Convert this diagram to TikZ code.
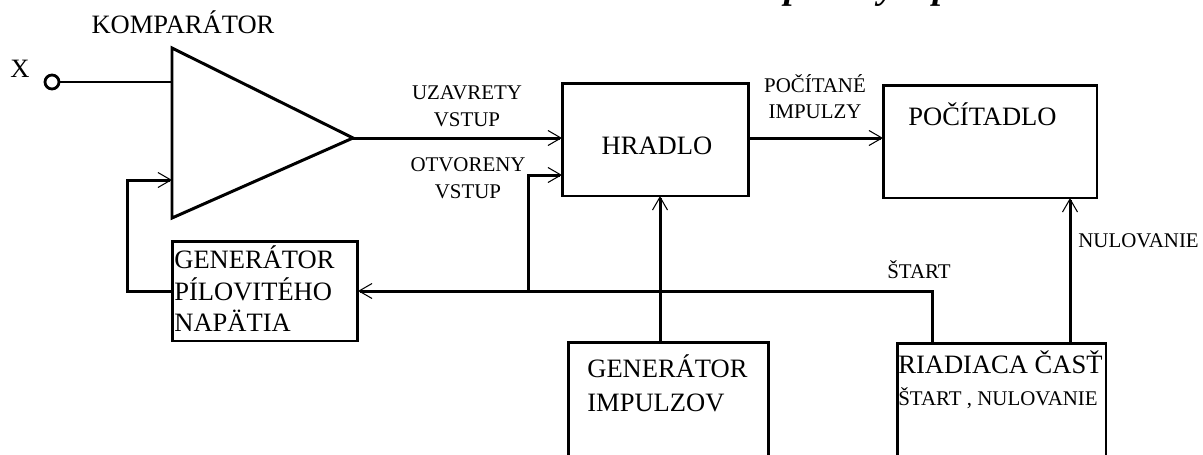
\documentclass[tikz,border=0pt]{standalone}
\usepackage{fontspec}
\setmainfont{Liberation Serif}
\usetikzlibrary{arrows.meta}
\newcommand\fbig{\fontsize{15.1}{17}\selectfont}
\newcommand\fsmall{\fontsize{11.9}{14}\selectfont}
\begin{document}
\begin{tikzpicture}[x=0.02cm,y=-0.02cm,
  wire/.style={line width=1.7pt},
  arr/.style={wire,-{Straight Barb[length=0.26cm,width=0.3cm,line width=0.6pt]}},
  box/.style={draw,line width=1.7pt,inner sep=0pt,outer sep=0pt},
  big/.style={inner sep=0pt,font=\fbig},
  small/.style={inner sep=0pt,font=\fsmall}
]
\useasboundingbox (0,0) rectangle (1203,454);
\begin{scope}
\clip (0,0) rectangle (1203,454);
% title fragment (cut off at top)
\node[anchor=base west,inner sep=0pt,font=\fontsize{21}{21}\selectfont\bfseries\itshape] (title) at (784,-1.5) {pilovitým priebehom};

% boxes
\node[box,minimum width=3.74cm,minimum height=2.26cm] (hradlo) at (655.5,139.5) {};
\node[box,minimum width=4.28cm,minimum height=2.26cm] (pocitadlo) at (990,141.5) {};
\node[box,minimum width=3.72cm,minimum height=2.0cm] (genpil) at (265,291) {};
\node[box,minimum width=4.02cm,minimum height=2.56cm] (genimp) at (668.5,406) {};
\node[box,minimum width=4.18cm,minimum height=2.54cm] (riad) at (1001.5,406.5) {};

% comparator triangle
\coordinate (ctop) at (172,48);
\coordinate (cbot) at (172,218);
\coordinate (cout) at (353,138);
\coordinate (cin1) at (172,82);
\coordinate (cin2) at (172,180);
\draw[wire,line join=miter] (ctop) -- (cout) -- (cbot) -- cycle;

% input terminal
\node[circle,draw,line width=1.6pt,minimum size=0.28cm,inner sep=0pt] (xin) at (52,82) {};
\draw[wire] (xin.east) -- (cin1);

% connectors
\draw[arr] (cout) -- (cout -| hradlo.west);
\draw[arr] (hradlo.east |- cout) -- (cout -| pocitadlo.west);
\coordinate (gi) at (660,342);
\draw[arr] (gi) -- (gi |- hradlo.south);
\coordinate (rn) at (1070,343);
\draw[arr] (rn) -- (rn |- pocitadlo.south);
\coordinate (rs) at (932,343);
\draw[arr] (rs) |- (genpil.east);
\coordinate (ot) at (528,291);
\draw[arr] (ot) |- (hradlo.west |- 0,175);
\draw[arr] (genpil.west) -- ++(-45,0) |- (cin2);

% labels
\node[big,anchor=base] (lx) at (20,77) {X};
\node[big,anchor=base] (lkomp) at (183,33) {KOMPARÁTOR};
\node[small,anchor=base] (luz1) at (467,99) {UZAVRETY};
\node[small,anchor=base] (luz2) at (467,126) {VSTUP};
\node[small,anchor=base] (lot1) at (468,171) {OTVORENY};
\node[small,anchor=base] (lot2) at (468,198) {VSTUP};
\node[small,anchor=base] (lpi1) at (815,92) {POČÍTANÉ};
\node[small,anchor=base] (lpi2) at (815,118) {IMPULZY};
\node[big,anchor=base] (lhr) at (657,154) {HRADLO};
\node[big,anchor=base west] (lpoc) at (908,125) {POČÍTADLO};
\node[small,anchor=base west] (lnul) at (1078,247) {NULOVANIE};
\node[small,anchor=base west] (lst) at (887,278) {ŠTART};
\node[big,anchor=base west] (lgp1) at (174,268) {GENERÁTOR};
\node[big,anchor=base west] (lgp2) at (174,300) {PÍLOVITÉHO};
\node[big,anchor=base west] (lgp3) at (174,331) {NAPÄTIA};
\node[big,anchor=base west] (lgi1) at (587,377) {GENERÁTOR};
\node[big,anchor=base west] (lgi2) at (587,411) {IMPULZOV};
\node[big,anchor=base west] (lr1) at (898,373) {RIADIACA ČASŤ};
\node[small,anchor=base west] (lr2) at (898,405) {ŠTART , NULOVANIE};
\end{scope}
\end{tikzpicture}
\end{document}
